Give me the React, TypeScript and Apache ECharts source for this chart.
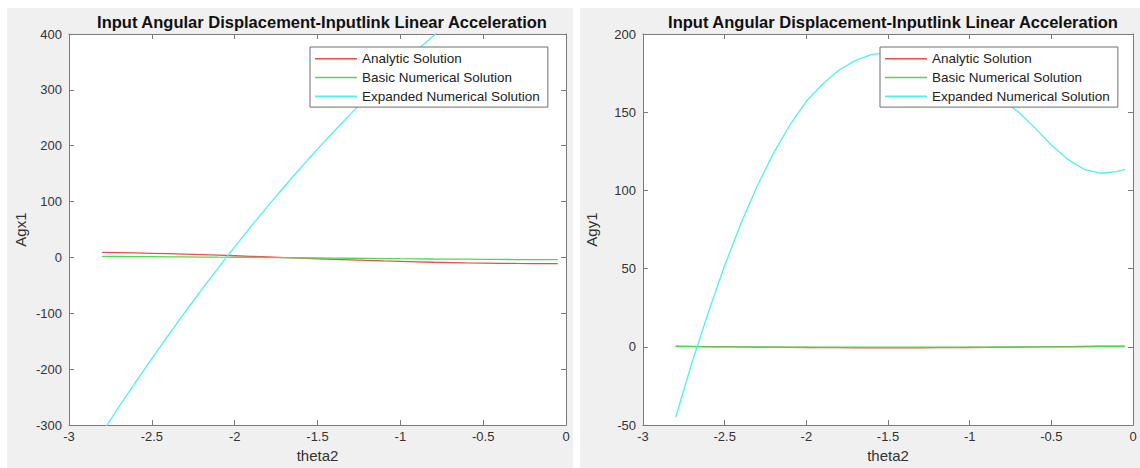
import React, { useEffect, useRef } from "react";
import * as echarts from "echarts";

// Input angle theta2 (rad) at which all solutions were sampled
const theta = [
  -2.8, -2.7, -2.6, -2.5, -2.4, -2.3, -2.2, -2.1, -2.0, -1.9, -1.8, -1.7, -1.6, -1.5,
  -1.4, -1.3, -1.2, -1.1, -1.0, -0.9, -0.8, -0.7, -0.6, -0.5, -0.4, -0.3, -0.2, -0.1, -0.05,
];

// Agx1 (left panel)
const agxAnalytic = [
  9.0, 8.6, 8.1, 7.5, 6.8, 6.0, 5.1, 4.1, 3.1, 2.1, 1.0, -0.1, -1.2, -2.3,
  -3.3, -4.3, -5.3, -6.2, -7.0, -7.8, -8.5, -9.1, -9.6, -10.0, -10.4, -10.7, -10.9, -11.0, -11.0,
];
const agxBasic = [
  2.0, 1.8, 1.6, 1.4, 1.2, 1.0, 0.8, 0.5, 0.3, 0.1, -0.2, -0.4, -0.7, -0.9,
  -1.2, -1.4, -1.7, -1.9, -2.2, -2.4, -2.7, -2.9, -3.1, -3.3, -3.5, -3.7, -3.8, -3.9, -4.0,
];
const agxExpanded = [
  -314, -268, -224, -181, -139, -98, -58, -19, 19, 56, 92, 127, 161, 194,
  226, 257, 287, 316, 344, 371, 397, 421, 444, 466, 486, 505, 523, 540, 548,
];

// Agy1 (right panel)
const agyAnalytic = [
  0.4, 0.3, 0.2, 0.1, 0, -0.1, -0.2, -0.3, -0.4, -0.5, -0.5, -0.6, -0.6, -0.6,
  -0.6, -0.6, -0.5, -0.5, -0.4, -0.3, -0.2, -0.1, 0, 0.1, 0.2, 0.3, 0.4, 0.4, 0.5,
];
const agyBasic = [
  0.1, 0.1, 0, 0, 0, 0, -0.1, -0.1, -0.1, -0.1, -0.1, -0.1, -0.1, -0.1,
  -0.1, -0.1, -0.1, -0.1, -0.1, -0.1, 0, 0, 0, 0, 0, 0, 0.1, 0.1, 0.1,
];
const agyExpanded = [
  -45, -10, 22, 52, 79, 103, 124, 142, 157, 168, 177, 183, 187, 188,
  187, 185, 182, 177, 172, 165, 158, 150, 140, 129, 120, 113.5, 111, 112, 113.5,
];

const seriesNames = ["Analytic Solution", "Basic Numerical Solution", "Expanded Numerical Solution"];
const seriesColors = ["#ee4d4d", "#4ddc4d", "#4ff0f0"];
const titleText = "Input Angular Displacement-Inputlink Linear Acceleration";
const xTicks = { min: -3, max: 0, interval: 0.5 };
const leftY = { min: -300, max: 400, interval: 100 };
const rightY = { min: -50, max: 200, interval: 50 };

const FONT = "'Liberation Sans', Arial, Helvetica, sans-serif";
const LINE_GRAY = "#7a7a7a";
const TEXT = "#333";

const pairs = (ys: number[]) => theta.map((t, i) => [t, ys[i]]);

function xAxes(gridIndex: number) {
  const common = {
    type: "value" as const,
    gridIndex,
    ...xTicks,
    axisLine: { show: true, onZero: false, lineStyle: { color: LINE_GRAY, width: 1 } },
    axisTick: { show: true, inside: true, length: 5, lineStyle: { color: LINE_GRAY } },
    splitLine: { show: false },
  };
  return [
    {
      ...common,
      position: "bottom",
      name: "theta2",
      nameLocation: "middle",
      nameGap: 22,
      nameTextStyle: { fontFamily: FONT, fontSize: 15, color: TEXT },
      axisLabel: { fontFamily: FONT, fontSize: 13, color: TEXT, margin: 5 },
    },
    { ...common, position: "top", axisLabel: { show: false } },
  ];
}

function yAxes(
  gridIndex: number,
  range: { min: number; max: number; interval: number },
  name: string,
  nameGap: number
) {
  const common = {
    type: "value" as const,
    gridIndex,
    ...range,
    axisLine: { show: true, onZero: false, lineStyle: { color: LINE_GRAY, width: 1 } },
    axisTick: { show: true, inside: true, length: 5, lineStyle: { color: LINE_GRAY } },
    splitLine: { show: false },
  };
  return [
    {
      ...common,
      position: "left",
      name,
      nameLocation: "middle",
      nameGap,
      nameRotate: 90,
      nameTextStyle: { fontFamily: FONT, fontSize: 15, color: TEXT },
      axisLabel: { fontFamily: FONT, fontSize: 13, color: TEXT, margin: 7 },
    },
    { ...common, position: "right", axisLabel: { show: false } },
  ];
}

function panelSeries(axisOffset: number, values: number[][]) {
  return values.map((ys, i) => ({
    name: seriesNames[i],
    type: "line",
    xAxisIndex: axisOffset,
    yAxisIndex: axisOffset,
    data: pairs(ys),
    symbol: "none",
    smooth: false,
    clip: true,
    lineStyle: { color: seriesColors[i], width: 1.3 },
    itemStyle: { color: seriesColors[i] },
  }));
}

function legendAt(left: number) {
  return {
    left,
    top: 47,
    orient: "vertical",
    data: seriesNames,
    icon: "rect",
    itemWidth: 42,
    itemHeight: 1.6,
    itemGap: 3.3,
    itemTextGap: 6,
    backgroundColor: "#fff",
    borderColor: "#6e6e6e",
    borderWidth: 1,
    borderRadius: 0,
    padding: [4, 8, 3, 5],
    selectedMode: false,
    textStyle: { fontFamily: FONT, fontSize: 13.5, color: "#222", lineHeight: 15.5 },
  };
}

function titleAt(center: number) {
  return {
    text: titleText,
    left: center,
    top: 8,
    textAlign: "center",
    textStyle: { fontFamily: FONT, fontSize: 16.5, fontWeight: "bold", color: "#111" },
  };
}

export default function App() {
  const ref = useRef<HTMLDivElement>(null);

  useEffect(() => {
    if (!ref.current) return;
    const chart = echarts.init(ref.current, undefined, { renderer: "svg" });
    chart.setOption({
      animation: false,
      title: [titleAt(317), titleAt(888)],
      grid: [
        { left: 69, top: 34, width: 497, height: 392, show: true, backgroundColor: "#fff", borderWidth: 0 },
        { left: 643, top: 34, width: 490, height: 392, show: true, backgroundColor: "#fff", borderWidth: 0 },
      ],
      xAxis: [...xAxes(0), ...xAxes(1)],
      yAxis: [...yAxes(0, leftY, "Agx1", 41), ...yAxes(1, rightY, "Agy1", 44)],
      legend: [legendAt(310), legendAt(880)],
      series: [
        ...panelSeries(0, [agxAnalytic, agxBasic, agxExpanded]),
        ...panelSeries(2, [agyAnalytic, agyBasic, agyExpanded]),
      ],
    });
    return () => chart.dispose();
  }, []);

  return (
    <div style={{ position: "absolute", left: 0, top: 0, width: 1140, height: 468, background: "#fff" }}>
      <div style={{ position: "absolute", left: 7, top: 8, width: 566, height: 460, background: "#f0f0f0" }} />
      <div style={{ position: "absolute", left: 580, top: 8, width: 560, height: 460, background: "#f0f0f0" }} />
      <div ref={ref} style={{ position: "absolute", left: 0, top: 0, width: 1140, height: 468 }} />
    </div>
  );
}
